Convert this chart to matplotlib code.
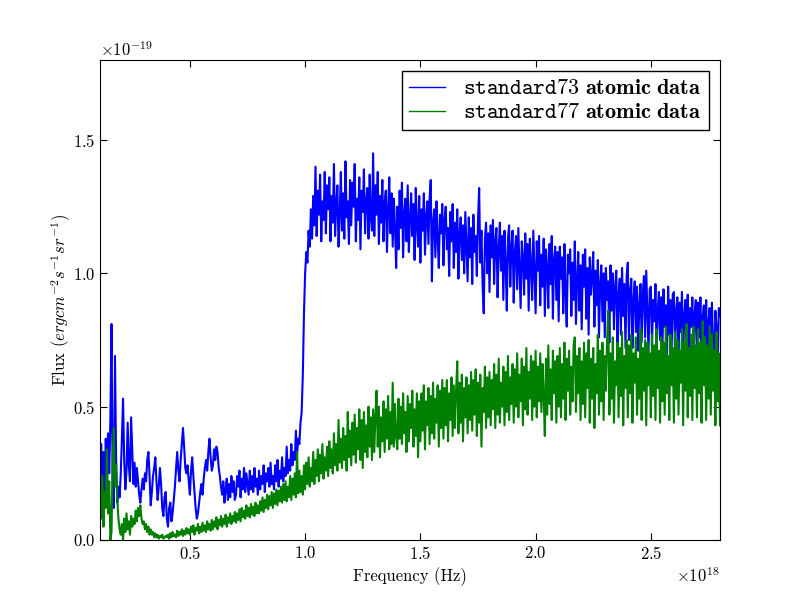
import numpy as np
import matplotlib
matplotlib.use('Agg')
from matplotlib import pyplot as plt

plt.rcParams['font.family'] = 'serif'
plt.rcParams['font.serif'] = ['cmr10', 'DejaVu Serif']
plt.rcParams['mathtext.fontset'] = 'cm'
plt.rcParams['axes.formatter.use_mathtext'] = True
plt.rcParams['axes.unicode_minus'] = False
plt.rcParams['xtick.direction'] = 'in'
plt.rcParams['ytick.direction'] = 'in'
plt.rcParams['xtick.top'] = True
plt.rcParams['ytick.right'] = True

# frequency grid in units of 1e18 Hz: 0.110, 0.115, ... 2.800
freq = np.arange(22, 561) / 200.0

# flux in units of 1e-19 erg cm^-2 s^-1 sr^-1
# (first row 0.110-0.195, then one row per 0.1e18 Hz, last value at 2.80)
flux73 = [
    0.16, 0.36, 0.20, 0.33, 0.15, 0.38, 0.22, 0.40, 0.25, 0.45, 0.81, 0.18, 0.12, 0.69, 0.30, 0.14, 0.20, 0.16,
    0.25, 0.38, 0.53, 0.30, 0.19, 0.26, 0.44, 0.28, 0.22, 0.46, 0.33, 0.21, 0.29, 0.20, 0.27, 0.22, 0.17, 0.14, 0.19, 0.23,
    0.19, 0.25, 0.22, 0.30, 0.33, 0.24, 0.13, 0.18, 0.24, 0.27, 0.31, 0.22, 0.15, 0.20, 0.27, 0.21, 0.12, 0.09, 0.16, 0.18,
    0.08, 0.05, 0.12, 0.14, 0.07, 0.10, 0.15, 0.20, 0.27, 0.33, 0.26, 0.22, 0.30, 0.36, 0.42, 0.35, 0.27, 0.25, 0.28, 0.22,
    0.17, 0.26, 0.31, 0.24, 0.18, 0.12, 0.08, 0.10, 0.14, 0.18, 0.21, 0.17, 0.23, 0.27, 0.30, 0.26, 0.33, 0.38, 0.31, 0.26,
    0.28, 0.34, 0.30, 0.35, 0.33, 0.27, 0.24, 0.20, 0.17, 0.22, 0.14, 0.19, 0.23, 0.15, 0.21, 0.16, 0.24, 0.18, 0.22, 0.15,
    0.17, 0.24, 0.20, 0.26, 0.16, 0.23, 0.19, 0.27, 0.18, 0.25, 0.21, 0.17, 0.26, 0.19, 0.24, 0.18, 0.27, 0.20, 0.23, 0.17,
    0.26, 0.19, 0.24, 0.21, 0.28, 0.18, 0.25, 0.22, 0.27, 0.20, 0.29, 0.21, 0.24, 0.19, 0.28, 0.22, 0.30, 0.20, 0.26, 0.23,
    0.31, 0.22, 0.27, 0.24, 0.35, 0.25, 0.30, 0.26, 0.36, 0.28, 0.33, 0.30, 0.41, 0.32, 0.38, 0.36, 0.44, 0.48, 0.62, 0.85,
    1.00, 1.08, 1.04, 1.16, 1.10, 1.24, 1.13, 1.29, 1.18, 1.40, 1.14, 1.31, 1.22, 1.37, 1.12, 1.27, 1.20, 1.38, 1.15, 1.33,
    1.24, 1.36, 1.12, 1.29, 1.19, 1.41, 1.14, 1.26, 1.33, 1.10, 1.22, 1.38, 1.16, 1.30, 1.13, 1.42, 1.21, 1.27, 1.11, 1.35,
    1.18, 1.34, 1.25, 1.41, 1.12, 1.28, 1.20, 1.36, 1.09, 1.31, 1.23, 1.39, 1.15, 1.27, 1.32, 1.13, 1.37, 1.21, 1.16, 1.45,
    1.14, 1.33, 1.22, 1.38, 1.11, 1.29, 1.19, 1.35, 1.12, 1.26, 1.31, 1.08, 1.24, 1.36, 1.15, 1.30, 1.10, 1.28, 1.17, 1.02,
    1.25, 1.09, 1.31, 1.17, 1.34, 1.06, 1.22, 1.28, 1.12, 1.33, 1.08, 1.20, 1.30, 1.14, 1.26, 1.05, 1.32, 1.18, 1.10, 1.29,
    1.04, 1.24, 1.16, 1.30, 1.07, 1.21, 1.27, 1.11, 1.28, 1.35, 0.97, 1.19, 1.24, 1.06, 1.27, 1.13, 1.02, 1.22, 1.15, 1.26,
    1.03, 1.20, 1.25, 1.09, 1.17, 0.99, 1.23, 1.12, 1.26, 1.02, 1.19, 1.08, 1.24, 0.98, 1.15, 1.21, 1.05, 1.18, 1.00, 1.23,
    1.10, 0.97, 1.21, 1.06, 1.17, 0.96, 1.22, 1.08, 1.14, 0.99, 1.20, 1.32, 1.04, 1.16, 0.95, 0.85, 1.13, 1.19, 1.00, 1.15,
    0.93, 1.18, 1.06, 1.20, 0.96, 1.12, 1.17, 0.91, 1.09, 1.19, 1.01, 1.14, 0.90, 1.16, 1.04, 0.86, 1.13, 1.18, 0.95, 1.10,
    1.16, 0.89, 1.08, 1.14, 0.94, 1.17, 1.02, 0.87, 1.12, 1.06, 0.92, 1.15, 0.98, 1.11, 0.86, 1.13, 1.03, 0.90, 1.16, 1.00,
    0.85, 1.12, 1.01, 1.14, 0.88, 1.07, 0.95, 1.13, 0.84, 1.09, 1.02, 0.87, 1.11, 0.96, 1.14, 0.83, 1.05, 1.10, 0.90, 1.08,
    0.82, 1.10, 0.98, 1.06, 0.85, 1.11, 0.93, 0.80, 1.07, 1.00, 1.09, 0.84, 1.04, 0.90, 1.12, 0.81, 0.97, 1.08, 0.86, 1.03,
    0.79, 1.07, 0.95, 1.09, 0.83, 1.02, 0.77, 1.06, 0.92, 0.99, 1.08, 0.80, 1.01, 0.88, 1.05, 0.76, 0.96, 1.03, 0.82, 1.00,
    0.76, 1.02, 0.90, 0.97, 0.74, 1.03, 0.86, 1.00, 0.79, 0.95, 1.01, 0.73, 0.92, 0.98, 0.77, 1.02, 0.84, 0.96, 0.72, 0.99,
    1.04, 0.75, 0.93, 0.98, 0.72, 0.90, 0.97, 0.78, 0.95, 0.71, 0.88, 0.96, 0.74, 0.92, 0.99, 0.76, 1.01, 0.85, 0.70, 0.94,
    0.95, 0.73, 0.90, 0.82, 0.96, 0.69, 0.87, 0.93, 0.75, 0.91, 0.70, 0.94, 0.80, 0.88, 0.68, 0.95, 0.77, 0.90, 0.71, 0.92,
    0.93, 0.70, 0.86, 0.91, 0.67, 0.89, 0.78, 0.93, 0.69, 0.84, 0.90, 0.72, 0.92, 0.66, 0.87, 0.80, 0.91, 0.68, 0.85, 0.90,
    0.66, 0.89, 0.76, 0.91, 0.65, 0.84, 0.88, 0.70, 0.90, 0.64, 0.82, 0.87, 0.68, 0.89, 0.74, 0.63, 0.86, 0.80, 0.65, 0.87,
    0.84,
]

flux77 = [
    0.20, 0.08, 0.24, 0.05, 0.18, 0.12, 0.34, 0.10, 0.22, 0.00, 0.03, 0.30, 0.42, 0.20, 0.28, 0.15, 0.08, 0.04,
    0.02, 0.06, 0.00, 0.08, 0.03, 0.10, 0.04, 0.07, 0.02, 0.09, 0.05, 0.08, 0.06, 0.11, 0.07, 0.12, 0.09, 0.13, 0.08, 0.06,
    0.07, 0.04, 0.06, 0.03, 0.05, 0.02, 0.04, 0.02, 0.03, 0.01, 0.025, 0.01, 0.02, 0.005, 0.015, 0.01, 0.02, 0.005, 0.01, 0.015,
    0.01, 0.02, 0.005, 0.025, 0.01, 0.03, 0.015, 0.02, 0.01, 0.035, 0.015, 0.03, 0.02, 0.04, 0.015, 0.035, 0.02, 0.045, 0.025, 0.04,
    0.02, 0.05, 0.03, 0.055, 0.02, 0.045, 0.035, 0.06, 0.025, 0.05, 0.03, 0.065, 0.035, 0.055, 0.03, 0.07, 0.04, 0.06, 0.035, 0.075,
    0.04, 0.07, 0.05, 0.085, 0.04, 0.075, 0.055, 0.09, 0.05, 0.08, 0.06, 0.095, 0.05, 0.085, 0.065, 0.10, 0.06, 0.09, 0.07, 0.105,
    0.065, 0.10, 0.075, 0.115, 0.07, 0.12, 0.085, 0.11, 0.08, 0.13, 0.09, 0.12, 0.085, 0.135, 0.095, 0.125, 0.09, 0.14, 0.10, 0.13,
    0.10, 0.145, 0.11, 0.16, 0.105, 0.15, 0.12, 0.17, 0.115, 0.165, 0.13, 0.18, 0.12, 0.175, 0.135, 0.19, 0.13, 0.185, 0.145, 0.20,
    0.14, 0.21, 0.15, 0.22, 0.145, 0.20, 0.16, 0.24, 0.15, 0.23, 0.17, 0.25, 0.16, 0.33, 0.175, 0.26, 0.18, 0.24, 0.17, 0.28,
    0.19, 0.29, 0.21, 0.31, 0.20, 0.27, 0.22, 0.33, 0.21, 0.30, 0.24, 0.34, 0.22, 0.32, 0.25, 0.36, 0.23, 0.31, 0.26, 0.35,
    0.24, 0.37, 0.27, 0.34, 0.25, 0.40, 0.28, 0.36, 0.26, 0.45, 0.29, 0.38, 0.27, 0.42, 0.30, 0.39, 0.26, 0.48, 0.31, 0.41,
    0.28, 0.44, 0.32, 0.47, 0.29, 0.42, 0.34, 0.49, 0.30, 0.45, 0.27, 0.48, 0.33, 0.43, 0.31, 0.50, 0.35, 0.46, 0.30, 0.49,
    0.33, 0.47, 0.56, 0.35, 0.50, 0.31, 0.46, 0.37, 0.52, 0.33, 0.49, 0.38, 0.54, 0.34, 0.48, 0.36, 0.59, 0.35, 0.51, 0.39,
    0.34, 0.53, 0.38, 0.50, 0.36, 0.55, 0.40, 0.48, 0.33, 0.54, 0.37, 0.51, 0.42, 0.56, 0.35, 0.49, 0.39, 0.55, 0.31, 0.52,
    0.37, 0.55, 0.41, 0.58, 0.34, 0.52, 0.43, 0.57, 0.36, 0.54, 0.40, 0.59, 0.38, 0.53, 0.44, 0.58, 0.35, 0.56, 0.42, 0.60,
    0.38, 0.57, 0.43, 0.60, 0.37, 0.55, 0.45, 0.61, 0.39, 0.58, 0.42, 0.56, 0.67, 0.40, 0.59, 0.44, 0.62, 0.37, 0.57, 0.46,
    0.61, 0.40, 0.58, 0.45, 0.63, 0.41, 0.60, 0.47, 0.64, 0.39, 0.59, 0.44, 0.62, 0.35, 0.57, 0.48, 0.65, 0.42, 0.61, 0.46,
    0.63, 0.43, 0.60, 0.49, 0.66, 0.42, 0.62, 0.47, 0.68, 0.44, 0.59, 0.50, 0.65, 0.43, 0.63, 0.48, 0.69, 0.45, 0.61, 0.51,
    0.66, 0.44, 0.64, 0.50, 0.70, 0.46, 0.62, 0.52, 0.68, 0.43, 0.65, 0.49, 0.72, 0.47, 0.63, 0.53, 0.69, 0.45, 0.67, 0.50,
    0.71, 0.46, 0.65, 0.52, 0.70, 0.48, 0.66, 0.54, 0.39, 0.68, 0.47, 0.73, 0.51, 0.64, 0.45, 0.71, 0.55, 0.67, 0.44, 0.69,
    0.50, 0.72, 0.46, 0.66, 0.53, 0.74, 0.45, 0.68, 0.56, 0.71, 0.47, 0.65, 0.52, 0.73, 0.76, 0.48, 0.69, 0.55, 0.72, 0.45,
    0.67, 0.51, 0.74, 0.46, 0.70, 0.57, 0.75, 0.44, 0.68, 0.53, 0.72, 0.42, 0.66, 0.55, 0.77, 0.47, 0.71, 0.52, 0.74, 0.45,
    0.69, 0.56, 0.75, 0.86, 0.47, 0.70, 0.53, 0.76, 0.44, 0.67, 0.58, 0.74, 0.46, 0.72, 0.54, 0.78, 0.43, 0.69, 0.57, 0.75,
    0.46, 0.73, 0.55, 0.77, 0.44, 0.70, 0.59, 0.76, 0.47, 0.68, 0.53, 0.79, 0.45, 0.72, 0.56, 0.75, 0.43, 0.74, 0.58, 0.70,
    0.46, 0.77, 0.54, 0.73, 0.45, 0.79, 0.57, 0.71, 0.44, 0.76, 0.52, 0.74, 0.47, 0.80, 0.55, 0.69, 0.45, 0.77, 0.58, 0.72,
    0.44, 0.78, 0.53, 0.75, 0.47, 0.71, 0.59, 0.79, 0.43, 0.74, 0.56, 0.81, 0.46, 0.72, 0.54, 0.77, 0.45, 0.80, 0.57, 0.73,
    0.46, 0.79, 0.55, 0.74, 0.44, 0.82, 0.58, 0.76, 0.45, 0.73, 0.53, 0.80, 0.47, 0.77, 0.56, 0.71, 0.43, 0.78, 0.52, 0.70,
    0.43,
]

labels = [r'$\mathtt{standard73}\ \mathbf{atomic\ data}$',
          r'$\mathtt{standard77}\ \mathbf{atomic\ data}$']

x = freq * 1e18
fig = plt.figure(figsize=(8, 6), dpi=100)
fig.subplots_adjust(left=0.125, right=0.9, bottom=0.1, top=0.9)
ax = fig.add_subplot(111)
ax.plot(x, np.array(flux73) * 1e-19, color='#0000ff', lw=1.5, label=labels[0])
ax.plot(x, np.array(flux77) * 1e-19, color='#008000', lw=1.5, label=labels[1])

ax.set_xlim(0.11e18, 2.8e18)
ax.set_ylim(0, 1.8e-19)
ax.set_xticks([0.5e18, 1.0e18, 1.5e18, 2.0e18, 2.5e18])
ax.set_yticks([0, 0.5e-19, 1.0e-19, 1.5e-19])
ax.tick_params(labelsize=12, length=5)
ax.xaxis.get_offset_text().set_fontsize(12)
ax.yaxis.get_offset_text().set_fontsize(12)

ax.set_xlabel('Frequency (Hz)', fontsize=12)
ax.set_ylabel(r'Flux $(erg cm^{-2} s^{-1} sr^{-1})$', fontsize=12, labelpad=0)

leg = ax.legend(loc='upper right', fontsize=16, fancybox=False, framealpha=1,
                edgecolor='black', borderaxespad=0.5, handlelength=1.6,
                handletextpad=0.8, labelspacing=0.2, borderpad=0.35)
leg.get_frame().set_linewidth(1.0)
for line in leg.get_lines():
    line.set_linewidth(1.0)

fig.savefig('out.png', dpi=100)
